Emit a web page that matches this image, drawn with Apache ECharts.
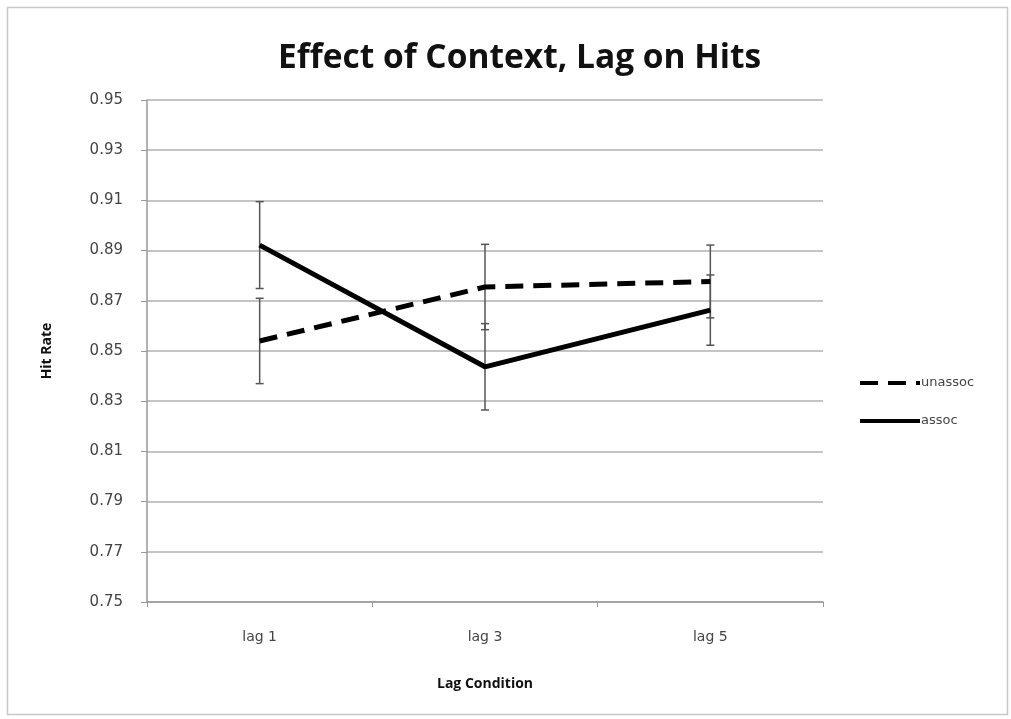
<!DOCTYPE html>
<html><head><meta charset="utf-8">
<script src="https://cdn.jsdelivr.net/npm/echarts@6/dist/echarts.min.js"></script>
<style>html,body{margin:0;padding:0;background:#fff}#c{width:1011px;height:719px}</style>
</head><body><div id="c"></div>
<script>
const categories = ['lag 1', 'lag 3', 'lag 5'];
const unassoc = [0.854, 0.8755, 0.8777];
const unassocErr = [0.017, 0.017, 0.0145];
const assoc = [0.8922, 0.8437, 0.8663];
const assocErr = [0.0173, 0.0172, 0.014];
const yTicks = { min: 0.75, max: 0.95, interval: 0.02 };

const chart = echarts.init(document.getElementById('c'), null, { renderer: 'canvas' });
const FONT = '"Open Sans", "Liberation Sans", sans-serif';
const LFONT = '"DejaVu Sans", sans-serif';

function errSeries(vals, errs) {
  return {
    type: 'custom',
    silent: true,
    z: 1,
    data: vals.map((v, i) => [i, v - errs[i], v + errs[i]]),
    renderItem: function (params, api) {
      const lo = api.coord([api.value(0), api.value(1)]);
      const hi = api.coord([api.value(0), api.value(2)]);
      const w = 4;
      const st = { stroke: '#555', lineWidth: 1.5 };
      return {
        type: 'group',
        children: [
          { type: 'line', shape: { x1: lo[0], y1: lo[1], x2: hi[0], y2: hi[1] }, style: st },
          { type: 'line', shape: { x1: lo[0] - w, y1: lo[1], x2: lo[0] + w, y2: lo[1] }, style: st },
          { type: 'line', shape: { x1: hi[0] - w, y1: hi[1], x2: hi[0] + w, y2: hi[1] }, style: st }
        ]
      };
    }
  };
}

chart.setOption({
  animation: false,
  backgroundColor: '#fff',
  graphic: [{
    type: 'rect', left: 5, top: 5, z: -10,
    shape: { width: 1000, height: 707 },
    style: { fill: 'none', stroke: '#c8c8c8', lineWidth: 1.5 }
  }],
  title: {
    text: 'Effect of Context, Lag on Hits',
    left: 273, top: 36,
    textStyle: { fontFamily: FONT, fontSize: 33.5, fontWeight: 'bold', color: '#111' }
  },
  legend: {
    orient: 'vertical',
    left: 858, top: 371, padding: 0,
    itemWidth: 60, itemHeight: 16, itemGap: 14,
    itemStyle: { color: 'rgba(0,0,0,0)', borderWidth: 0 },
    lineStyle: { width: 4 },
    textStyle: { fontFamily: LFONT, fontSize: 13, color: '#444', padding: [4, 0, 0, -4], lineHeight: 20 },
    data: ['unassoc', 'assoc']
  },
  grid: { left: 147, right: 188, top: 100, bottom: 117 },
  xAxis: {
    type: 'category',
    data: categories,
    boundaryGap: true,
    name: 'Lag Condition',
    nameLocation: 'middle',
    nameGap: 75,
    nameTextStyle: { fontFamily: FONT, fontSize: 14, fontWeight: 'bold', color: '#111' },
    axisLine: { lineStyle: { color: '#999', width: 1.5 } },
    axisTick: { show: true, length: 5, lineStyle: { color: '#999' } },
    axisLabel: { fontFamily: LFONT, fontSize: 14, color: '#444', margin: 28 }
  },
  yAxis: {
    type: 'value',
    min: yTicks.min, max: yTicks.max, interval: yTicks.interval,
    name: 'Hit Rate',
    nameLocation: 'middle',
    nameGap: 93,
    nameTextStyle: { fontFamily: FONT, fontSize: 14, fontWeight: 'bold', color: '#111' },
    axisLine: { show: true, lineStyle: { color: '#999', width: 1.5 } },
    axisTick: { show: true, length: 6, inside: false, lineStyle: { color: '#999' } },
    axisLabel: { fontFamily: LFONT, fontSize: 15, color: '#444', margin: 24, formatter: v => v.toFixed(2) },
    splitLine: { lineStyle: { color: '#c4c4c4', width: 1.8 } }
  },
  series: [
    {
      name: 'unassoc', type: 'line', data: unassoc, symbol: 'none', z: 3,
      lineStyle: { color: '#000', width: 5, type: [18, 10] },
      itemStyle: { color: '#000' }
    },
    {
      name: 'assoc', type: 'line', data: assoc, symbol: 'none', z: 3,
      lineStyle: { color: '#000', width: 5 },
      itemStyle: { color: '#000' }
    },
    errSeries(unassoc, unassocErr),
    errSeries(assoc, assocErr)
  ]
});
</script></body></html>
